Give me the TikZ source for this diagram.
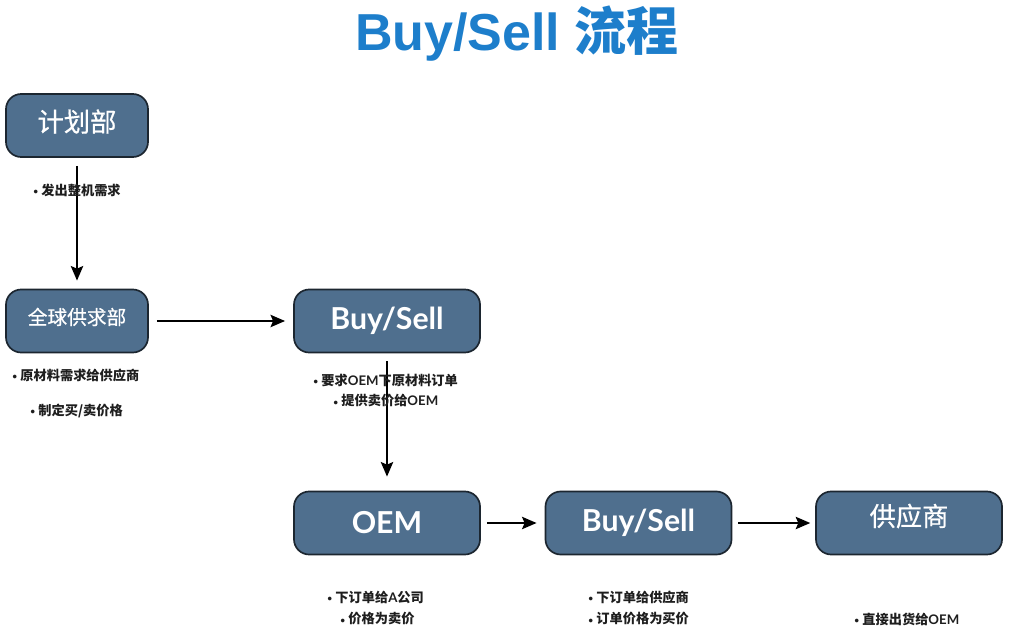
\documentclass[tikz,border=0pt]{standalone}
\usepackage{fontspec}
\setmainfont{Lato}
\newfontfamily\cjkfont{Noto Sans CJK SC}
\newfontfamily\cjkboxfont{Noto Sans CJK SC}[FakeBold=0.6]
\newfontfamily\titlefont{Liberation Sans}
\usetikzlibrary{arrows.meta}

\definecolor{boxfill}{HTML}{4F6F8E}
\definecolor{boxedge}{HTML}{1C2630}
\definecolor{titleblue}{HTML}{1D7ECB}
\definecolor{notegray}{HTML}{1E1E1E}

\newcommand{\zh}[1]{{\cjkfont #1}}
\newcommand{\notedot}{{\fontsize{6}{6}\selectfont\raisebox{0.4pt}{\textbullet}}}

\begin{document}
\begin{tikzpicture}[
            x=0.025cm, y=-0.025cm,
            dept box/.style={rectangle, rounded corners=0.38cm, draw=boxedge, line width=1.2pt, fill=boxfill, text=white, minimum width=3.55cm, minimum height=1.575cm, inner sep=0pt},
            wide box/.style={dept box, minimum width=4.65cm},
            zh text/.style={font=\cjkboxfont\fontsize{18.7}{20}\selectfont, text height=16.5pt, text depth=7.8pt},
            en text/.style={font=\bfseries\fontsize{21.5}{22}\selectfont},
            note/.style={anchor=west, inner sep=0pt, text=notegray, font=\bfseries\fontsize{9.4}{11}\selectfont},
            flow arrow/.style={-{Stealth[length=0.36cm, width=0.3cm, inset=0.06cm]}, line width=2.1pt, shorten <=0.2cm, shorten >=0.2cm}
        ]
        \useasboundingbox (0,0) rectangle (1010,638);

        % Title
        \node[anchor=base, text=titleblue, font=\titlefont\bfseries\fontsize{37}{40}\selectfont] (title) at (517,50) {Buy/Sell \zh{流程}};

        % Boxes
        \node[dept box, zh text] (plan) at (77,125.5) {计划部};
        \node[dept box, zh text, font=\cjkboxfont\fontsize{14}{16}\selectfont, text height=12.3pt, text depth=7.3pt] (global) at (77,321) {全球供求部};
        \node[wide box, en text] (bs1) at (387,321) {Buy/Sell};
        \node[wide box, en text] (oem) at (387,523) {OEM};
        \node[wide box, en text] (bs2) at (638.5,523) {Buy/Sell};
        \node[wide box, zh text, text depth=12.2pt] (sup) at (909,523) {供应商};

        % Arrows
        \draw[flow arrow] (plan) -- (global);
        \draw[flow arrow] (global) -- (bs1);
        \draw[flow arrow, shorten >=0.35cm] (bs1) -- (oem);
        \draw[flow arrow, shorten <=0.15cm] (oem) -- (bs2);
        \draw[flow arrow, shorten <=0.15cm, shorten >=0.12cm] (bs2) -- (sup);

        % Notes
        \node[note] (n-plan) at (33,190) {\notedot\ \zh{发出整机需求}};
        \node[note] (n-global-1) at (12,375) {\notedot\ \zh{原材料需求给供应商}};
        \node[note] (n-global-2) at (30,411) {\notedot\ \zh{制定买/卖价格}};
        \node[note] (n-bs1-1) at (313,380) {\notedot\ \zh{要求}OEM\zh{下原材料订单}};
        \node[note] (n-bs1-2) at (333,401) {\notedot\ \zh{提供卖价给}OEM};
        \node[note] (n-oem-1) at (327,597) {\notedot\ \zh{下订单给}A\zh{公司}};
        \node[note] (n-oem-2) at (340,619) {\notedot\ \zh{价格为卖价}};
        \node[note] (n-bs2-1) at (588,597) {\notedot\ \zh{下订单给供应商}};
        \node[note] (n-bs2-2) at (588,619) {\notedot\ \zh{订单价格为买价}};
        \node[note] (n-sup) at (854,619) {\notedot\ \zh{直接出货给}OEM};

\end{tikzpicture}
\end{document}
